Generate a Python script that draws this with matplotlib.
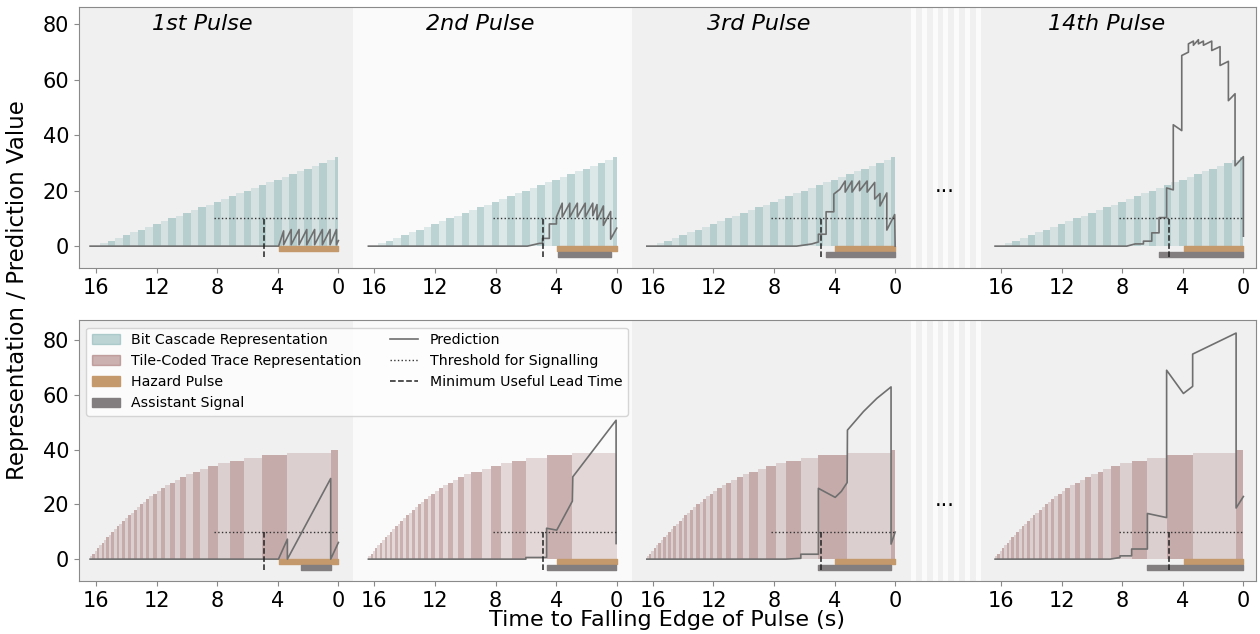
import matplotlib.pyplot as plt
from matplotlib.colors import to_rgba
from matplotlib.patches import Patch
from matplotlib.lines import Line2D

pulse_titles = ["1st Pulse", "2nd Pulse", "3rd Pulse", "14th Pulse"]
time_ticks = [16, 12, 8, 4, 0]
value_ticks = [0, 20, 40, 60, 80]

# bit cascade: left edge of each bin (s before falling edge) and its value
cascade_left = [15.75, 15.25, 14.75, 14.25, 13.75, 13.25, 12.75, 12.25, 11.75, 11.25,
                10.75, 10.25, 9.75, 9.25, 8.75, 8.25, 7.75, 7.25, 6.75, 6.25,
                5.75, 5.25, 4.75, 4.25, 3.75, 3.25, 2.75, 2.25, 1.75, 1.25, 0.75, 0.25]
cascade_value = [1, 2, 3, 4, 5, 6, 7, 8, 9, 10, 11, 12, 13, 14, 15, 16,
                 17, 18, 19, 20, 21, 22, 23, 24, 25, 26, 27, 28, 29, 30, 31, 32]

# tile-coded trace: early tiles are the same for every pulse, late ones differ
trace_left_early = [16.40, 16.25, 16.10, 15.95, 15.80, 15.64, 15.48, 15.32, 15.16, 14.99,
                    14.82, 14.65, 14.47, 14.29, 14.11, 13.92, 13.73, 13.53, 13.33, 13.13,
                    12.92, 12.71, 12.49, 12.26, 12.01, 11.75, 11.46, 11.15, 10.82, 10.46,
                    10.06, 9.62]
trace_left_late = [
    [9.14, 8.59, 7.97, 7.18, 6.23, 5.04, 3.37, 0.50],
    [8.92, 8.33, 7.67, 6.94, 6.00, 4.63, 2.92],
    [9.05, 8.50, 7.85, 7.20, 6.23, 5.07, 3.15, 0.27],
    [9.30, 8.77, 8.15, 7.38, 6.34, 5.07, 3.35, 0.48],
]
trace_value = [1, 2, 3, 4, 5, 6, 7, 8, 9, 10, 11, 12, 13, 14, 15, 16, 17, 18, 19, 20,
               21, 22, 23, 24, 25, 26, 27, 28, 29, 30, 31, 32, 33, 34, 35, 36, 37, 38, 39, 40]

# predictions (time, value) for the bit cascade learner
cascade_pred_t = [
    [16.4, 3.95, 3.62, 3.62, 3.12, 3.12, 2.6, 2.6, 2.09, 2.09, 1.57, 1.57, 1.06, 1.06,
     0.55, 0.55, 0.13, 0.13, 0.0],
    [16.4, 5.9, 5.1, 4.9, 4.9, 4.45, 4.45, 3.98, 3.98, 3.6, 3.6, 3.1, 3.1, 2.6, 2.6,
     2.08, 2.08, 1.58, 1.58, 1.3, 1.3, 0.88, 0.88, 0.4, 0.4, 0.0],
    [16.4, 6.5, 5.5, 5.07, 5.07, 4.56, 4.56, 4.05, 4.05, 3.65, 3.3, 3.3, 2.85, 2.85,
     2.35, 2.35, 1.85, 1.85, 1.35, 1.35, 1.0, 1.0, 0.55, 0.55, 0.03, 0.0],
    [16.4, 7.7, 7.15, 6.6, 6.6, 6.05, 6.05, 5.57, 5.57, 5.07, 5.07, 4.63, 4.63, 4.07,
     4.07, 3.63, 3.63, 3.3, 3.3, 2.97, 2.97, 2.64, 2.64, 2.09, 2.09, 1.54, 1.54, 0.99,
     0.99, 0.55, 0.55, 0.0, 0.0],
]
cascade_pred_v = [
    [0, 0, 5.5, 0.5, 6, 0.5, 6, 0.5, 6, 0.5, 6, 0.5, 6, 0.5, 6, 0.5, 6, 0.5, 2],
    [0, 0, 1, 1, 2.8, 2.8, 8, 8, 10.5, 15.5, 10.5, 15.5, 10.5, 15.5, 10.5, 15.5, 10.5,
     15.5, 11, 15, 9.5, 14.5, 7.5, 12.5, 2.5, 6.5],
    [0, 0, 0.8, 1.5, 4.3, 4.3, 12.4, 12.4, 18.8, 20.5, 23.5, 19.5, 23.5, 19.5, 23.5, 20,
     23.5, 19.5, 23, 17, 19, 14.5, 19.2, 5.8, 11.4, 0],
    [0, 0, 0.8, 0.8, 1.8, 1.8, 4.8, 4.8, 10.3, 10.3, 21, 20.3, 43.8, 41.7, 68.8, 70, 73,
     74, 72.5, 74.5, 73, 74, 72.5, 74, 70.6, 72, 65.2, 66.7, 52.5, 55, 29, 32.3, 3.6],
]

# predictions (time, value) for the tile-coded trace learner
trace_pred_t = [
    [16.4, 3.96, 3.37, 3.37, 0.51, 0.51, 0.0],
    [16.4, 6.0, 6.0, 4.63, 4.63, 3.96, 2.93, 2.9, 0.04, 0.04],
    [16.4, 7.2, 6.23, 6.23, 5.07, 5.07, 3.96, 3.55, 3.17, 3.15, 2.09, 1.21, 0.27, 0.27, 0.0],
    [16.4, 8.8, 8.15, 8.15, 7.38, 7.38, 6.34, 6.34, 5.07, 5.07, 3.96, 3.35, 3.35, 0.48,
     0.48, 0.0],
]
trace_pred_v = [
    [0, 0, 7.3, 0, 29.5, 0, 6.1],
    [0, 0, 0.6, 0.6, 11.3, 10.6, 21.2, 30.1, 50.8, 5.7],
    [0, 0, 0.3, 1.8, 1.8, 25.9, 22.6, 24.8, 28, 47.2, 54, 58.8, 63, 5.5, 9.9],
    [0, 0, 0.6, 1.2, 1.2, 3.7, 3.7, 16.7, 15.2, 69.1, 60.6, 63.2, 75, 82.7, 18.7, 22.9],
]

# hazard pulse and assistant signal windows (start, end) in s before falling edge
hazard_window = (3.95, 0.0)
cascade_signal = [None, (3.85, 0.4), (4.56, 0.04), (5.57, 0.0)]
trace_signal = [(2.49, 0.51), (4.63, 0.04), (5.07, 0.29), (6.34, 0.0)]

threshold = 10
threshold_from = 8.2
min_lead_time = 4.9

teal = "#80aeb0"
rose = "#9e6868"
hazard_color = "#c49a6c"
signal_color = "#827d7e"
pred_color = "#6f6f6f"
frame_color = "#8a8a8a"

# x position of t = 0 for each pulse on the shared axis
panel_zero = [17.15, 35.53, 53.92, 76.92]
panel_bg = ["#f0f0f0", "#fafafa", "#f0f0f0", "#f0f0f0"]
gap_from, gap_to = 54.92, 59.52


def draw_bars(ax, zero, left, values, color):
    right = left[1:] + [0.0]
    xs = [zero - l for l in left]
    widths = [l - r for l, r in zip(left, right)]
    colors = [to_rgba(color, 0.5 if v % 2 == 0 else 0.24) for v in values]
    ax.bar(xs, values, width=widths, align="edge", color=colors, linewidth=0, zorder=1)


def draw_panel(ax, zero, left, values, color, pred_t, pred_v, signal):
    draw_bars(ax, zero, left, values, color)
    h0, h1 = hazard_window
    ax.broken_barh([(zero - h0, h0 - h1)], (-1.8, 1.8), color=hazard_color, zorder=2)
    if signal is not None:
        s0, s1 = signal
        ax.broken_barh([(zero - s0, s0 - s1)], (-3.9, 1.9), color=signal_color, zorder=2)
    ax.plot([zero - t for t in pred_t], pred_v, color=pred_color, lw=1.2, zorder=3)
    ax.hlines(threshold, zero - threshold_from, zero, colors="#333333",
              linestyles=":", lw=1.0, zorder=3)
    ax.vlines(zero - min_lead_time, -4, threshold, colors="#222222",
              linestyles="--", lw=1.1, zorder=3)


def style_axis(ax, ylim):
    ax.set_xlim(0, 77.76)
    ax.set_ylim(*ylim)
    for i, zero in enumerate(panel_zero):
        ax.axvspan(zero - 17.4, zero + 1.0, color=panel_bg[i], lw=0, zorder=0)
    ax.axvspan(gap_from, gap_to, color="#f0f0f0", lw=0, zorder=0)
    for k in range(7):
        x = 54.97 + 0.71 * k
        ax.axvspan(x, x + 0.33, color="#fbfbfb", lw=0, zorder=0)
    ax.text((gap_from + gap_to) / 2, 19.5, "...", ha="center", va="baseline", fontsize=15)
    ax.set_xticks([z - t for z in panel_zero for t in time_ticks])
    ax.set_xticklabels([str(t) for _ in panel_zero for t in time_ticks])
    ax.set_yticks(value_ticks)
    ax.tick_params(labelsize=15, color=frame_color)
    for sp in ax.spines.values():
        sp.set_color(frame_color)


fig = plt.figure(figsize=(12.6, 6.34), dpi=100)
ax_top = fig.add_axes([0.0625, 0.5768, 0.9344, 0.4117])
ax_bot = fig.add_axes([0.0625, 0.0836, 0.9344, 0.4109])

style_axis(ax_top, (-8, 86.2))
style_axis(ax_bot, (-8, 87.3))

for i, zero in enumerate(panel_zero):
    draw_panel(ax_top, zero, cascade_left, cascade_value, teal,
               cascade_pred_t[i], cascade_pred_v[i], cascade_signal[i])
    trace_left = trace_left_early + trace_left_late[i]
    draw_panel(ax_bot, zero, trace_left, trace_value[:len(trace_left)], rose,
               trace_pred_t[i], trace_pred_v[i], trace_signal[i])
    ax_top.text(zero - 9, 80, pulse_titles[i], ha="center", va="center",
                fontsize=16, style="italic")

handles = [
    Patch(color=to_rgba(teal, 0.5), label="Bit Cascade Representation"),
    Patch(color=to_rgba(rose, 0.5), label="Tile-Coded Trace Representation"),
    Patch(color=hazard_color, label="Hazard Pulse"),
    Patch(color=signal_color, label="Assistant Signal"),
    Line2D([], [], color=pred_color, lw=1.2, label="Prediction"),
    Line2D([], [], color="#333333", lw=1.0, ls=":", label="Threshold for Signalling"),
    Line2D([], [], color="#222222", lw=1.1, ls="--", label="Minimum Useful Lead Time"),
]
ax_bot.legend(handles=handles, loc="upper left", ncol=2, fontsize=10.2)

fig.text(0.014, 0.543, "Representation / Prediction Value", rotation=90,
         ha="center", va="center", fontsize=16.5)
fig.text(0.529, 0.022, "Time to Falling Edge of Pulse (s)", ha="center",
         va="center", fontsize=16)

fig.savefig("out.png", dpi=100)
